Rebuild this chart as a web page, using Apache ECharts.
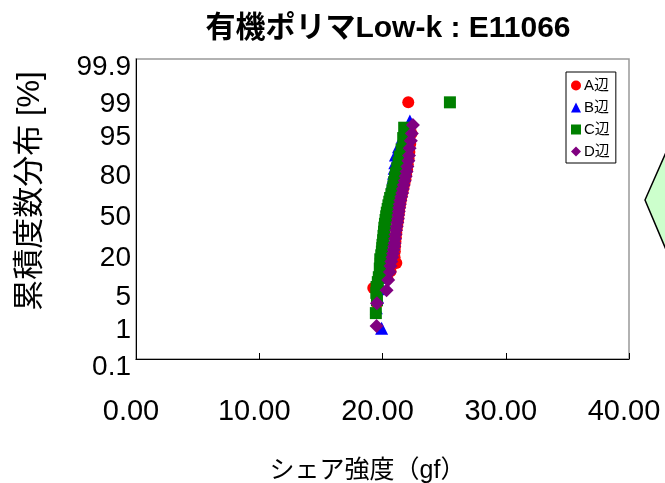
<!DOCTYPE html>
<html>
<head>
<meta charset="utf-8">
<script src="https://cdn.jsdelivr.net/npm/echarts@6/dist/echarts.min.js"></script>
<style>
  html, body { margin: 0; padding: 0; background: #fff; }
  #main { width: 665px; height: 483px; }
</style>
</head>
<body>
<div id="main"></div>
<script>
// probability axis labels (cumulative %)
var probLabels = ['0.1', '1', '5', '20', '50', '80', '95', '99', '99.9'];

// A辺
var shearA = [19.55, 19.25, 20.4, 20.65, 21.12, 20.98, 21.0, 21.02, 21.05, 21.08, 21.12, 21.15, 21.2, 21.24, 21.28, 21.32, 21.35, 21.4, 21.45, 21.5, 21.56, 21.62, 21.7, 21.78, 21.86, 21.92, 22.0, 22.05, 22.12, 22.18, 22.25, 22.35, 22.09];
var cumA = [2.6, 5.2, 7.5, 10, 13.3, 16, 19, 22, 25, 28, 31, 34, 37, 40, 43, 46, 49, 52, 55, 58, 61, 64, 67, 70, 73, 76, 79, 82, 85, 88, 91, 94, 98.6];
// B辺
var shearB = [19.93, 19.5, 19.6, 19.65, 19.7, 19.75, 19.8, 19.85, 19.88, 19.92, 19.95, 19.98, 20.02, 20.05, 20.1, 20.12, 20.16, 20.2, 20.24, 20.3, 20.35, 20.4, 20.45, 20.5, 20.56, 20.62, 20.68, 20.75, 20.8, 20.85, 20.9, 20.95, 21.0, 21.05, 21.3, 21.6, 22.22];
var cumB = [0.7, 2.1, 3.5, 5, 6.5, 8, 10, 12, 14, 16, 18, 20, 23, 26, 29, 32, 35, 38, 41, 44, 47, 50, 53, 56, 59, 62, 65, 68, 71, 74, 77, 80, 83, 86.7, 90, 93, 96.5];
// C辺
var shearC = [19.46, 19.55, 19.5, 19.52, 19.62, 19.7, 19.8, 19.78, 19.85, 19.82, 19.9, 19.95, 19.98, 20.0, 20.05, 20.08, 20.12, 20.15, 20.2, 20.25, 20.3, 20.35, 20.42, 20.48, 20.55, 20.62, 20.72, 20.8, 20.88, 20.95, 21.02, 21.1, 21.2, 21.3, 21.4, 21.55, 21.68, 21.76, 25.47];
var cumC = [1.6, 3.0, 4.2, 5.4, 6.6, 8, 9.7, 11, 13, 15, 17, 19, 21, 23, 26, 29, 32, 35, 38, 41, 44, 47, 50, 53, 56, 59, 62, 65, 68, 71, 74, 77, 80, 83, 86, 89, 92.8, 95.3, 98.6];
// D辺
var shearD = [19.52, 19.55, 20.33, 20.46, 20.6, 20.65, 20.72, 20.8, 20.85, 20.9, 20.95, 20.98, 21.02, 21.06, 21.1, 21.15, 21.2, 21.25, 21.28, 21.32, 21.36, 21.4, 21.45, 21.52, 21.6, 21.65, 21.72, 21.8, 21.88, 21.95, 22.02, 22.1, 22.15, 22.2, 22.3, 22.38, 22.47];
var cumD = [0.8, 2.6, 4.7, 7.2, 9.7, 12, 14, 16, 18, 20, 22, 24, 27, 30, 33, 36, 39, 42, 45, 48, 51, 54, 57, 60, 63, 66, 69, 72, 75, 78, 81, 84, 86.5, 89.5, 92, 94, 95.8];

var font = "'Liberation Sans', 'Noto Sans CJK JP', sans-serif";

// normal probability scale (inverse of the standard normal cdf)
function probit(p) {
    function rat(t) {
        return t - (2.515517 + 0.802853 * t + 0.010328 * t * t) /
            (1 + 1.432788 * t + 0.189269 * t * t + 0.001308 * t * t * t);
    }
    if (p < 0.5) return -rat(Math.sqrt(-2 * Math.log(p)));
    return rat(Math.sqrt(-2 * Math.log(1 - p)));
}

var tickZ = probLabels.map(function (s) { return probit(parseFloat(s) / 100); });

function pairs(xs, cs) {
    var out = [];
    for (let i = 0; i < xs.length; i++) {
        out.push([xs[i], probit(cs[i] / 100)]);
    }
    return out;
}

var myChart = echarts.init(document.getElementById('main'), null, {renderer: 'canvas'});

option = {
    animation: false,
    title: {
        text: '有機ポリマLow-k : E11066',
        left: 383,
        textAlign: 'center',
        top: 9,
        textStyle: {fontFamily: font, fontSize: 30, fontWeight: 'bold', color: '#000'}
    },
    grid: {
        left: 136, right: 36, top: 59, bottom: 124,
        outerBoundsMode: 'none',
        containLabel: false,
        show: true,
        borderColor: '#999',
        borderWidth: 1.5
    },
    legend: {
        orient: 'vertical',
        left: 566,
        top: 72,
        padding: [6, 6, 4, 5],
        itemWidth: 10,
        itemHeight: 10,
        itemGap: 7,
        backgroundColor: '#fff',
        borderColor: '#000',
        borderWidth: 1,
        textStyle: {fontFamily: font, fontSize: 15, color: '#000', padding: [0, 0, 0, -2]},
        data: [
            {name: 'A辺', icon: 'circle'},
            {name: 'B辺', icon: 'triangle'},
            {name: 'C辺', icon: 'rect'},
            {name: 'D辺', icon: 'diamond'}
        ]
    },
    xAxis: {
        type: 'value',
        min: 0,
        max: 40,
        interval: 10,
        name: 'シェア強度（gf）',
        nameLocation: 'middle',
        nameGap: 100,
        nameTextStyle: {fontFamily: font, fontSize: 25, color: '#000', padding: [0, 30, 0, 0]},
        axisLine: {onZero: false, lineStyle: {color: '#000', width: 1}},
        axisTick: {inside: true, length: 6, lineStyle: {color: '#000'}},
        axisLabel: {
            margin: 38,
            fontFamily: font,
            fontSize: 29,
            color: '#000',
            padding: [0, 10, 0, 0],
            formatter: function (v) { return v.toFixed(2); }
        },
        splitLine: {show: false}
    },
    yAxis: {
        type: 'value',
        min: tickZ[0],
        max: tickZ[tickZ.length - 1],
        name: '累積度数分布 [%]',
        nameLocation: 'middle',
        nameRotate: 90,
        nameGap: 90,
        nameTextStyle: {fontFamily: font, fontSize: 31, color: '#000', padding: [0, 0, 0, 36]},
        axisLine: {show: true, onZero: false, lineStyle: {color: '#000', width: 1}},
        axisTick: {show: false},
        axisLabel: {
            customValues: tickZ,
            margin: 5,
            fontFamily: font,
            fontSize: 28,
            color: '#000',
            verticalAlign: 'top',
            lineHeight: 17,
            formatter: function (v) {
                var best = 0;
                for (let i = 0; i < tickZ.length; i++) {
                    if (Math.abs(tickZ[i] - v) < Math.abs(tickZ[best] - v)) best = i;
                }
                return probLabels[best];
            }
        },
        splitLine: {show: false}
    },
    graphic: [{
        type: 'polygon',
        shape: {points: [[645, 200], [667, 150], [700, 150], [700, 252], [667, 252]]},
        style: {fill: '#ccffcc', stroke: '#000', lineWidth: 1.5}
    }],
    series: [
        {name: 'A辺', type: 'scatter', symbol: 'circle', symbolSize: 12, itemStyle: {color: '#ff0000', opacity: 1}, data: pairs(shearA, cumA)},
        {name: 'B辺', type: 'scatter', symbol: 'triangle', symbolSize: 13, itemStyle: {color: '#0000ff', opacity: 1}, data: pairs(shearB, cumB)},
        {name: 'C辺', type: 'scatter', symbol: 'rect', symbolSize: 12, itemStyle: {color: '#008000', opacity: 1}, data: pairs(shearC, cumC)},
        {name: 'D辺', type: 'scatter', symbol: 'diamond', symbolSize: 14, itemStyle: {color: '#800080', opacity: 1}, data: pairs(shearD, cumD)}
    ]
};

myChart.setOption(option, true);
</script>
</body>
</html>
